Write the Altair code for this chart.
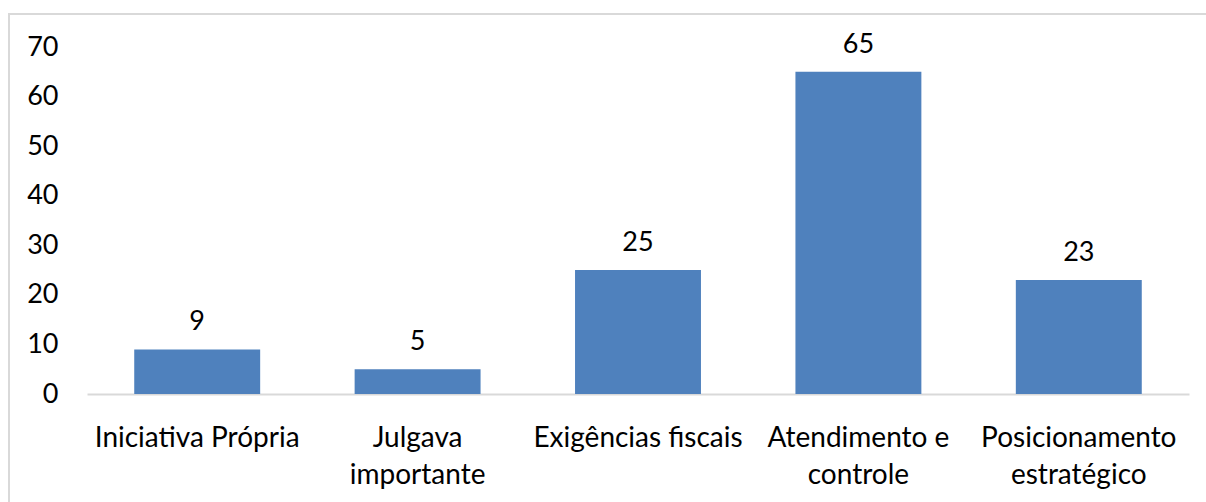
import altair as alt
import pandas as pd

categories = [
    "Iniciativa Própria",
    "Julgava\nimportante",
    "Exigências fiscais",
    "Atendimento e\ncontrole",
    "Posicionamento\nestratégico",
]
values = [9, 5, 25, 65, 23]
y_ticks = [0, 10, 20, 30, 40, 50, 60, 70]

df = pd.DataFrame({"categoria": categories, "valor": values})

FONT = "Lato"
FS = 27
BLUE = "#4F81BD"

W, H = 1102, 347
PAD_L, PAD_T = 87, 47

x_enc = alt.X(
    "categoria:N",
    sort=categories,
    title=None,
    scale=alt.Scale(paddingInner=0.4286, paddingOuter=0.2143),
    axis=alt.Axis(
        labelAngle=0,
        labelExpr="split(datum.label, '\\n')",
        labelFont=FONT,
        labelFontSize=28,
        labelColor="#000000",
        labelLineHeight=37,
        labelPadding=30,
        labelBaseline="top",
        labelLimit=400,
        ticks=False,
        domainColor="#D9D9D9",
        domainWidth=2,
        grid=False,
    ),
)
y_enc = alt.Y(
    "valor:Q",
    title=None,
    scale=alt.Scale(domain=[0, 70], nice=False),
    axis=alt.Axis(
        values=y_ticks,
        labelFont=FONT,
        labelFontSize=FS,
        labelColor="#000000",
        labelPadding=29,
        ticks=False,
        domain=False,
        grid=False,
    ),
)

bars = alt.Chart(df).mark_bar(color=BLUE).encode(x=x_enc, y=y_enc)

labels = alt.Chart(df).mark_text(
    font=FONT, fontSize=FS, color="#000000", baseline="middle", dy=-27
).encode(x=alt.X("categoria:N", sort=categories), y="valor:Q", text="valor:Q")

# outer frame around the whole chart
frame = alt.Chart(df).mark_rect(
    fill=None, stroke="#D9D9D9", strokeWidth=2, clip=False
).encode(
    x=alt.value(9 - PAD_L),
    x2=alt.value(1206 - PAD_L + 5),
    y=alt.value(14 - PAD_T),
    y2=alt.value(502 - PAD_T + 5),
)

chart = (
    alt.layer(frame, bars, labels)
    .properties(
        width=W,
        height=H,
        padding={"left": PAD_L, "top": PAD_T, "right": 1206 - PAD_L - W, "bottom": 502 - PAD_T - H},
        autosize=alt.AutoSizeParams(type="none"),
        background="#FFFFFF",
    )
    .configure_view(stroke=None)
)

chart.save("out.html", embed_options={"renderer": "svg", "actions": False})
